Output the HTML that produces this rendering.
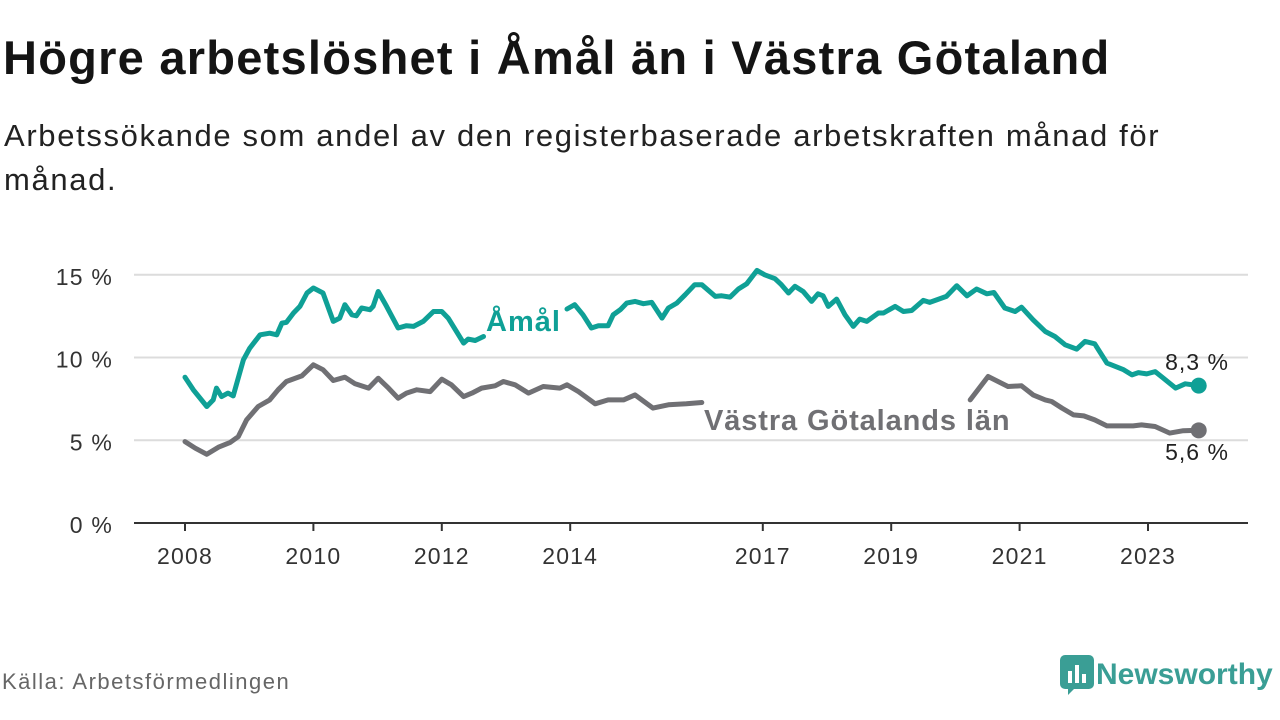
<!DOCTYPE html>
<html><head><meta charset="utf-8"><style>
body{margin:0;width:1280px;height:720px;background:#fff;font-family:"Liberation Sans","DejaVu Sans",sans-serif;overflow:hidden;position:relative}
h1{position:absolute;left:3px;top:33px;margin:0;font-size:47px;line-height:50px;font-weight:bold;color:#141414;letter-spacing:1.25px;white-space:nowrap}
.sub{position:absolute;left:4px;top:114px;margin:0;font-size:31px;line-height:44px;color:#222;width:1185px;letter-spacing:1.65px}
.src{position:absolute;left:2px;top:669px;font-size:22px;color:#666;letter-spacing:1.5px}
.logo{position:absolute;left:1060px;top:655px;display:flex;align-items:center}
.logo span{font-size:30px;font-weight:bold;color:#3a9e95;margin-left:2px}
svg{position:absolute;left:0;top:0}
</style></head><body>
<h1>Högre arbetslöshet i Åmål än i Västra Götaland</h1>
<p class="sub">Arbetssökande som andel av den registerbaserade arbetskraften månad för månad.</p>
<svg id="chart" width="1280" height="720"></svg>
<div class="src">Källa: Arbetsförmedlingen</div>
<div class="logo">
<svg style="position:static" width="34" height="40" viewBox="0 0 34 40"><rect x="0" y="0" width="34" height="34" rx="5" fill="#3a9e95"/><path d="M8 33 L8 40 L15 33Z" fill="#3a9e95"/><rect x="8" y="16" width="4" height="12" fill="#fff"/><rect x="15" y="10" width="4" height="18" fill="#fff"/><rect x="22" y="19" width="4" height="9" fill="#fff"/></svg>
<span>Newsworthy</span></div>
<script>
const yTicks=[0,5,10,15];
const xTicks=[2008,2010,2012,2014,2017,2019,2021,2023];
const amalDates=[2008.0,2008.13,2008.34,2008.44,2008.49,2008.57,2008.67,2008.75,2008.91,2009.01,2009.17,2009.32,2009.43,2009.51,2009.58,2009.69,2009.79,2009.90,2010.0,2010.15,2010.31,2010.41,2010.49,2010.60,2010.67,2010.75,2010.88,2010.93,2011.01,2011.14,2011.32,2011.45,2011.56,2011.71,2011.87,2012.0,2012.10,2012.34,2012.41,2012.52,2012.65,2013.3,2013.95,2014.07,2014.20,2014.33,2014.44,2014.59,2014.67,2014.78,2014.88,2015.01,2015.14,2015.27,2015.43,2015.53,2015.66,2015.79,2015.94,2016.05,2016.26,2016.36,2016.49,2016.62,2016.75,2016.91,2017.03,2017.19,2017.29,2017.40,2017.50,2017.63,2017.76,2017.86,2017.94,2018.02,2018.15,2018.28,2018.41,2018.51,2018.62,2018.80,2018.88,2019.06,2019.19,2019.32,2019.50,2019.60,2019.86,2020.02,2020.18,2020.33,2020.49,2020.60,2020.77,2020.93,2021.03,2021.21,2021.40,2021.55,2021.71,2021.89,2022.02,2022.17,2022.36,2022.62,2022.75,2022.85,2022.98,2023.11,2023.24,2023.43,2023.58,2023.79];
const amalValues=[8.81,8.05,7.04,7.44,8.15,7.64,7.85,7.68,9.86,10.57,11.37,11.47,11.37,12.08,12.12,12.69,13.09,13.9,14.2,13.9,12.18,12.38,13.19,12.58,12.52,12.99,12.89,13.09,13.99,13.09,11.78,11.92,11.88,12.18,12.78,12.78,12.38,10.87,11.11,11.03,11.27,null,12.93,13.19,12.58,11.78,11.92,11.92,12.58,12.89,13.29,13.39,13.25,13.33,12.38,12.99,13.29,13.79,14.4,14.4,13.69,13.73,13.65,14.14,14.46,15.26,15.0,14.76,14.4,13.9,14.3,13.99,13.39,13.85,13.73,13.09,13.53,12.58,11.88,12.32,12.18,12.69,12.69,13.09,12.78,12.84,13.45,13.33,13.69,14.34,13.73,14.14,13.85,13.93,12.99,12.78,13.04,12.28,11.57,11.27,10.77,10.51,10.97,10.83,9.66,9.26,8.95,9.09,9.01,9.15,8.75,8.15,8.41,8.3];
const vgDates=[2008.0,2008.16,2008.34,2008.52,2008.70,2008.83,2008.96,2009.14,2009.32,2009.45,2009.58,2009.82,2010.0,2010.15,2010.31,2010.49,2010.65,2010.86,2011.01,2011.17,2011.32,2011.45,2011.61,2011.82,2012.0,2012.15,2012.34,2012.47,2012.62,2012.83,2012.96,2013.14,2013.35,2013.58,2013.84,2013.95,2014.13,2014.39,2014.59,2014.83,2015.01,2015.29,2015.53,2015.81,2016.05,2018.0,2020.23,2020.51,2020.82,2021.03,2021.21,2021.40,2021.50,2021.66,2021.84,2022.0,2022.17,2022.36,2022.77,2022.90,2023.11,2023.34,2023.55,2023.79];
const vgValues=[4.92,4.52,4.15,4.58,4.86,5.22,6.23,7.04,7.44,8.05,8.55,8.89,9.56,9.26,8.61,8.81,8.41,8.15,8.75,8.15,7.54,7.85,8.05,7.94,8.69,8.35,7.64,7.85,8.15,8.29,8.55,8.35,7.85,8.25,8.15,8.35,7.94,7.2,7.44,7.44,7.74,6.94,7.14,7.2,7.28,null,7.44,8.85,8.25,8.29,7.74,7.44,7.34,6.94,6.53,6.47,6.23,5.87,5.87,5.93,5.83,5.43,5.58,5.6];
const NS="http://www.w3.org/2000/svg";
const svg=document.getElementById('chart');
const X=d=>185+(d-2008)*64.2;
const Y=v=>523-v*16.55;
function el(t,a,p){const e=document.createElementNS(NS,t);for(const k in a)e.setAttribute(k,a[k]);(p||svg).appendChild(e);return e;}
yTicks.forEach(v=>{
 if(v>0){const g=el('line',{x1:134,x2:1248,y1:Y(v),y2:Y(v),stroke:'#dcdcdc','stroke-width':2});
 
 }
 const t=el('text',{x:113,y:Y(v)+10,'text-anchor':'end','font-size':23,'letter-spacing':1.2,fill:'#333'});
 t.textContent=v+' %';
 
 
});
const ax=el('line',{x1:134,x2:1248,y1:523,y2:523,stroke:'#333','stroke-width':2});


xTicks.forEach(d=>{
 const tk=el('line',{x1:X(d),x2:X(d),y1:523,y2:531,stroke:'#333','stroke-width':2});
 
 
 const t=el('text',{x:X(d),y:564,'text-anchor':'middle','font-size':23,'letter-spacing':1.2,fill:'#333'});
 t.textContent=d;
 
 
});
function path(ds,vs){let s='',pen=false;ds.forEach((d,i)=>{if(vs[i]==null){pen=false;return;}s+=(pen?'L':'M')+X(d).toFixed(1)+' '+Y(vs[i]).toFixed(1);pen=true;});return s;}
const l1=el('path',{d:path(vgDates,vgValues),fill:'none',stroke:'#707074','stroke-width':5,'stroke-linejoin':'round','stroke-linecap':'round'});


const l2=el('path',{d:path(amalDates,amalValues),fill:'none',stroke:'#0fa096','stroke-width':5,'stroke-linejoin':'round','stroke-linecap':'round'});


const ln=amalDates.length-1, gn=vgDates.length-1;
const d1=el('circle',{cx:X(amalDates[ln]),cy:Y(amalValues[ln]),r:8,fill:'#0fa096'});


const d2=el('circle',{cx:X(vgDates[gn]),cy:Y(vgValues[gn]),r:8,fill:'#707074'});


const t1=el('text',{x:1197,y:370,'text-anchor':'middle','font-size':23,'letter-spacing':1,fill:'#222'});
t1.textContent=amalValues[ln].toFixed(1).replace('.',',')+' %';


const t2=el('text',{x:1197,y:460,'text-anchor':'middle','font-size':23,'letter-spacing':1,fill:'#222'});
t2.textContent=vgValues[gn].toFixed(1).replace('.',',')+' %';


const s1=el('text',{x:486,y:331,'font-size':29,'font-weight':'bold','letter-spacing':1,fill:'#0fa096'});
s1.textContent='Åmål';


const s2=el('text',{x:704,y:430,'font-size':29,'font-weight':'bold','letter-spacing':0.9,fill:'#707074'});
s2.textContent='Västra Götalands län';


</script>
</body></html>
